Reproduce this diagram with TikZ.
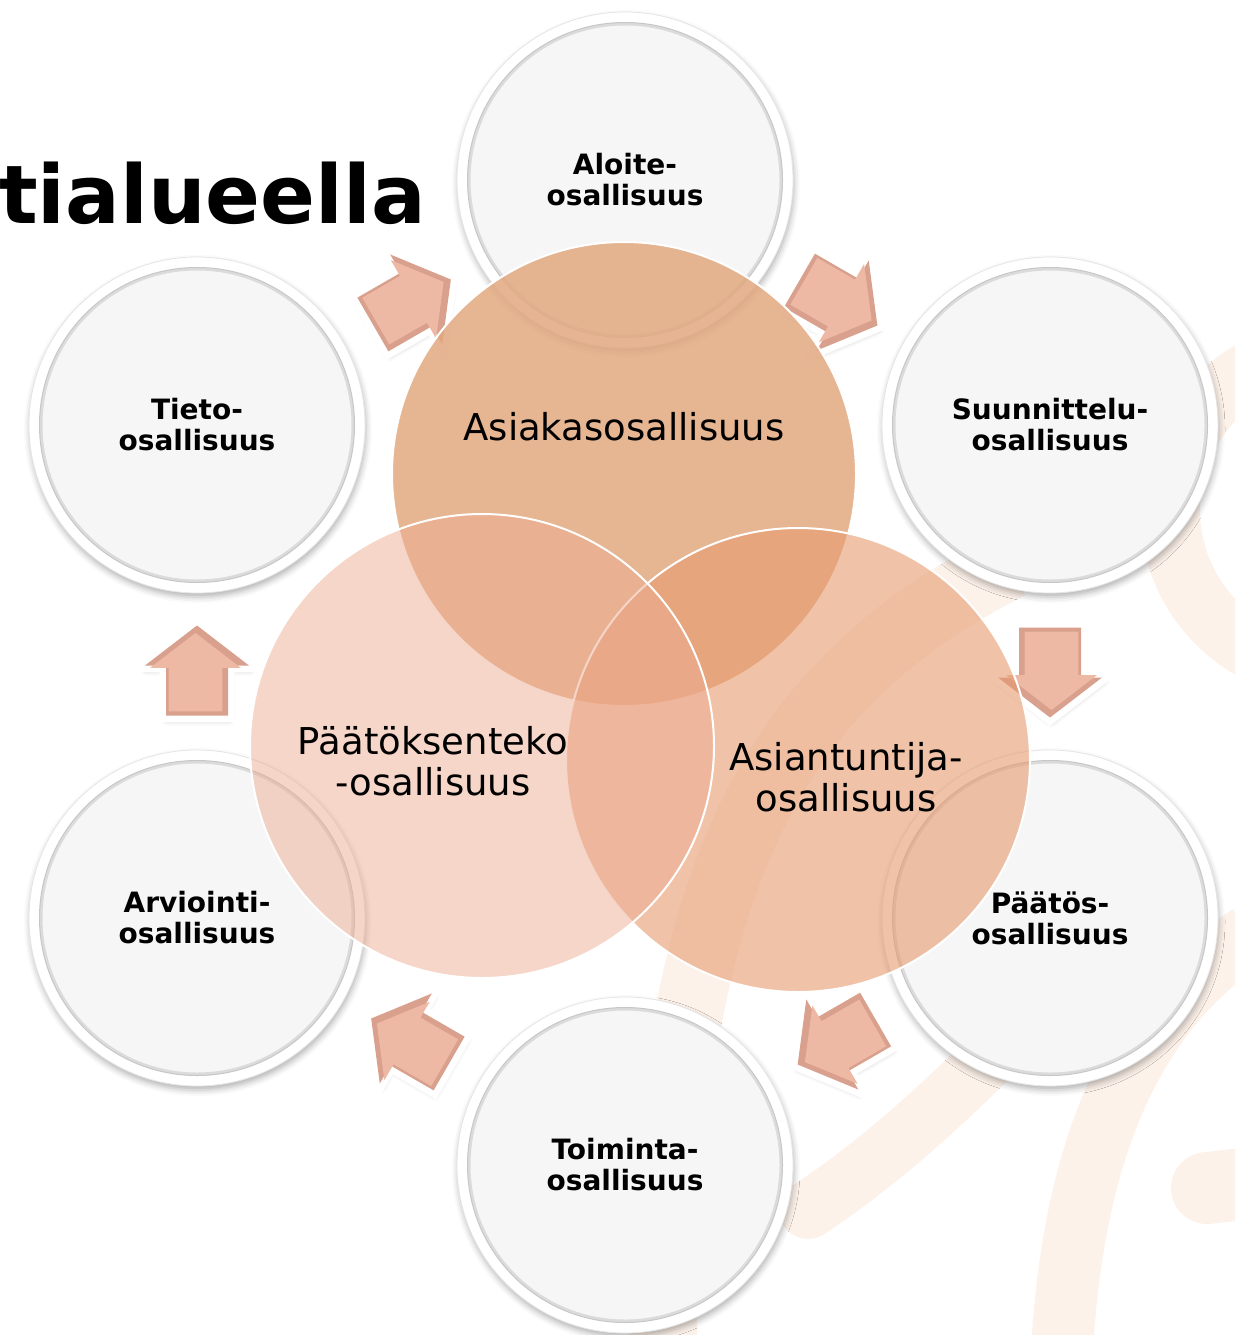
\documentclass[tikz,border=0pt]{standalone}
\usepackage{fontspec}
\setmainfont{DejaVu Sans}
\usetikzlibrary{calc,shadows.blur}
\definecolor{bandc}{HTML}{FDF2EA}
\definecolor{innergray}{HTML}{F6F6F6}
\definecolor{vennA}{HTML}{E2A87F}
\definecolor{vennB}{HTML}{EDAD93}
\definecolor{vennC}{HTML}{E69A6E}
\definecolor{arrowedge}{HTML}{D8A08D}
\definecolor{arrowface}{HTML}{EDB9A5}
\begin{document}
\begin{tikzpicture}[x=1pt,y=1pt,
  band/.style={draw=bandc},
  outerc/.style={circle, minimum size=336pt, inner sep=0pt, fill=white, draw=black!10, line width=0.8pt,
    blur shadow={shadow xshift=1pt, shadow yshift=-4pt, shadow blur radius=6pt, shadow opacity=30},
    path picture={
      \draw[fill=innergray, draw=black!14, line width=3pt] (path picture bounding box.center) circle[radius=156pt];
      \draw[draw=black!22, line width=1pt] (path picture bounding box.center) circle[radius=157.5pt];},
    font=\bfseries\fontsize{28}{31}\selectfont, align=center, text=black},
  venn/.style={circle, minimum size=464pt, inner sep=0pt, draw=white, line width=2pt},
  venntext/.style={font=\fontsize{37}{41}\selectfont, align=center, text=black},
  arrowpath/.style={insert path={(-44,31) -- (6,31) -- (6,52) -- (46,0) -- (6,-52) -- (6,-31) -- (-44,-31) -- cycle}},
  blockarrow/.pic={
    \path[blur shadow={shadow xshift=1pt, shadow yshift=-4pt, shadow blur radius=6pt, shadow opacity=30},
      draw=white, line width=13pt, line join=miter, fill=white, arrowpath];
    \path[fill=arrowedge, arrowpath];
    \path[fill=arrowface, xshift=-1.5pt, yshift=1.5pt, scale=0.87, arrowpath];
  }
]
\useasboundingbox (0,0) rectangle (1235,-1335);

% faint background logo bands
\begin{scope}
\clip (0,0) rectangle (1235,-1335);
\draw[band, line width=68pt] (663,-1350) .. controls (663,-900) and (760,-690) .. (1010,-565);
\draw[band, line width=58pt, line cap=round] (808,-1210) .. controls (900,-1150) and (990,-1060) .. (1070,-975);
\draw[band, line width=60pt] (1330,-510) circle[radius=160pt];
\draw[band, line width=62pt] (1062,-1350) .. controls (1075,-1120) and (1150,-1000) .. (1250,-935);
\draw[band, line width=72pt, line cap=round] (1207,-1188) -- (1280,-1180);
\end{scope}

% outer cycle circles
\node[outerc] (aloite) at (625,-180) {Aloite-\\osallisuus};
\node[outerc] (suunn) at (1050,-425) {Suunnittelu-\\osallisuus};
\node[outerc] (paatos) at (1050,-918) {Päätös-\\osallisuus};
\node[outerc] (toim) at (625,-1165) {Toiminta-\\osallisuus};
\node[outerc] (arv) at (197,-918) {Arviointi-\\osallisuus};
\node[outerc] (tieto) at (197,-425) {Tieto-\\osallisuus};

% block arrows between neighbouring circles
\pic[rotate=30] at ($(tieto)!0.5!(aloite)$) {blockarrow};
\pic[rotate=-30] at ($(aloite)!0.5!(suunn)$) {blockarrow};
\pic[rotate=-90] at ($(suunn)!0.5!(paatos)$) {blockarrow};
\pic[rotate=-150] at ($(paatos)!0.5!(toim)$) {blockarrow};
\pic[rotate=150] at ($(toim)!0.5!(arv)$) {blockarrow};
\pic[rotate=90] at ($(arv)!0.5!(tieto)$) {blockarrow};

% Venn circles
\node[venn, fill=vennA, fill opacity=0.85] (asiakas) at (624,-474) {};
\node[venn, fill=vennC, fill opacity=0.6] (asiant) at (798,-760) {};
\node[venn, fill=vennB, fill opacity=0.5] (paatoks) at (482,-746) {};

\node[venntext] (asiakastxt) at (624,-427) {Asiakasosallisuus};
\node[venntext] (paatokstxt) at (433,-761) {Päätöksenteko\\-osallisuus};
\node[venntext] (asianttxt) at (846,-777) {Asiantuntija-\\osallisuus};

% title fragment
\node[anchor=base east, inner sep=0pt, font=\bfseries\fontsize{81}{81}\selectfont] (title) at (426,-223) {tialueella};
\end{tikzpicture}
\end{document}
